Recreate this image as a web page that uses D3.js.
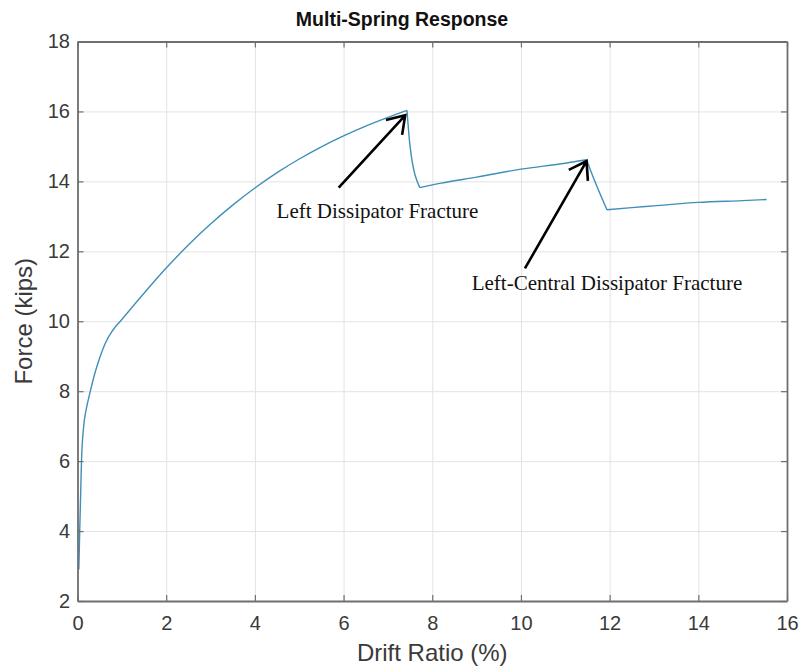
<!DOCTYPE html>
<html>
<head>
<meta charset="utf-8">
<script src="https://cdn.jsdelivr.net/npm/d3@7"></script>
<style>
  body { margin: 0; background: #fff; }
</style>
</head>
<body>
<svg id="chart" width="799" height="666"></svg>
<script>
// Drift ratio (%) and force (kips)
const driftRatio = [0.03, 0.05, 0.07, 0.09, 0.14, 0.2, 0.28, 0.4, 0.5, 0.63, 0.8, 1.0, 1.5, 2.0, 2.5, 3.0, 3.5, 4.0, 4.5, 5.0, 5.5, 6.0, 6.5, 7.0, 7.43, 7.5, 7.72, 8.2, 9.0, 10.0, 11.0, 11.48, 11.63, 11.94, 12.5, 13.0, 14.0, 15.0, 15.54];
const force = [2.9, 4.0, 5.0, 6.0, 7.0, 7.5, 7.95, 8.55, 8.95, 9.38, 9.75, 10.05, 10.8, 11.52, 12.18, 12.78, 13.32, 13.81, 14.25, 14.64, 14.99, 15.3, 15.58, 15.83, 16.03, 15.0, 13.82, 13.95, 14.12, 14.35, 14.52, 14.62, 14.12, 13.19, 13.25, 13.3, 13.4, 13.45, 13.48];

const xTicks = [0, 2, 4, 6, 8, 10, 12, 14, 16];
const yTicks = [2, 4, 6, 8, 10, 12, 14, 16, 18];

// Annotations: text position and arrow tail -> head, in data units
const noteLabels = ['Left Dissipator Fracture', 'Left-Central Dissipator Fracture'];
const noteTextPos = [[4.49, 12.94], [8.89, 10.89]];
const arrowTail = [[5.89, 13.82], [10.09, 11.51]];
const arrowHead = [[7.39, 15.89], [11.48, 14.58]];

const svg = d3.select('#chart'),
    marginLeft = 77.5, marginTop = 41.5,
    width = 709.5, height = 559.5;

const xScale = d3.scaleLinear().domain([0, 16]).range([0, width]);
const yScale = d3.scaleLinear().domain([2, 18]).range([height, 0]);

const g = svg.append('g')
    .attr('transform', 'translate(' + marginLeft + ',' + marginTop + ')');

// Grid
g.append('g')
    .attr('transform', 'translate(0,' + height + ')')
    .call(d3.axisBottom(xScale).tickValues(xTicks).tickSize(-height).tickFormat(''))
    .call(s => s.select('.domain').remove())
    .selectAll('line').attr('stroke', '#e3e3e3');
g.append('g')
    .call(d3.axisLeft(yScale).tickValues(yTicks).tickSize(-width).tickFormat(''))
    .call(s => s.select('.domain').remove())
    .selectAll('line').attr('stroke', '#e3e3e3');

// Curve: smooth hardening branches, drops at each fracture
const points = driftRatio.map((d, i) => [d, force[i]]);
const peaks = [24, 31];
const branches = [points.slice(0, peaks[0] + 1), points.slice(26, peaks[1] + 1), points.slice(33)];
const drops = [points.slice(peaks[0], 27), points.slice(peaks[1], 34)];

const smooth = d3.line().curve(d3.curveMonotoneX).x(d => xScale(d[0])).y(d => yScale(d[1]));
const curveD = branches.concat(drops).map(b => smooth(b)).join('');

g.append('path')
    .attr('fill', 'none')
    .attr('stroke', '#3f8fb8')
    .attr('stroke-width', 1.4)
    .attr('stroke-linejoin', 'round')
    .attr('d', curveD);

// Axes (inward ticks, box on all sides)
const axisColor = '#6f6f6f';
function styleAxis(sel) {
    sel.select('.domain').attr('stroke', axisColor).attr('stroke-width', 1.8);
    sel.selectAll('.tick line').attr('stroke', axisColor).attr('stroke-width', 1.2);
    sel.selectAll('text')
        .attr('fill', '#3a3a3a')
        .style('font-family', 'Liberation Sans, Arial, sans-serif')
        .style('font-size', '20px');
}

g.append('g')
    .attr('transform', 'translate(0,' + height + ')')
    .call(d3.axisBottom(xScale).tickValues(xTicks).tickSize(-6).tickSizeOuter(0).tickPadding(14.5))
    .call(styleAxis);
g.append('g')
    .call(d3.axisTop(xScale).tickValues(xTicks).tickSize(-6).tickSizeOuter(0).tickFormat(''))
    .call(styleAxis);
g.append('g')
    .call(d3.axisLeft(yScale).tickValues(yTicks).tickSize(-6).tickSizeOuter(0).tickPadding(7.5))
    .call(styleAxis);
g.append('g')
    .attr('transform', 'translate(' + width + ',0)')
    .call(d3.axisRight(yScale).tickValues(yTicks).tickSize(-6).tickSizeOuter(0).tickFormat(''))
    .call(styleAxis);

// Arrows with open heads
const headBack = 16.5, headSide = 11;
function arrowPath(tail, head) {
    const x1 = xScale(tail[0]), y1 = yScale(tail[1]);
    const x2 = xScale(head[0]), y2 = yScale(head[1]);
    const len = Math.hypot(x2 - x1, y2 - y1);
    const ux = (x2 - x1) / len, uy = (y2 - y1) / len;
    const bx = x2 - ux * headBack, by = y2 - uy * headBack;
    return 'M' + x1 + ',' + y1 + 'L' + x2 + ',' + y2 +
        'M' + (bx - uy * headSide) + ',' + (by + ux * headSide) +
        'L' + x2 + ',' + y2 +
        'L' + (bx + uy * headSide) + ',' + (by - ux * headSide);
}

g.append('g')
    .selectAll('path')
    .data(arrowTail)
    .enter()
    .append('path')
    .attr('d', (d, i) => arrowPath(d, arrowHead[i]))
    .attr('fill', 'none')
    .attr('stroke', '#000')
    .attr('stroke-width', 2.6)
    .attr('stroke-linejoin', 'miter');

g.append('g')
    .selectAll('text')
    .data(noteLabels)
    .enter()
    .append('text')
    .attr('x', (d, i) => xScale(noteTextPos[i][0]))
    .attr('y', (d, i) => yScale(noteTextPos[i][1]))
    .style('font-family', 'Liberation Serif, Times New Roman, serif')
    .style('font-size', '21px')
    .attr('fill', '#111')
    .text(d => d);

// Title
svg.append('text')
    .attr('x', 402)
    .attr('y', 26)
    .attr('text-anchor', 'middle')
    .style('font-family', 'Liberation Sans, Arial, sans-serif')
    .style('font-weight', 'bold')
    .style('font-size', '19.5px')
    .attr('fill', '#111')
    .text('Multi-Spring Response');

// X label
svg.append('text')
    .attr('x', marginLeft + width / 2)
    .attr('y', 661)
    .attr('text-anchor', 'middle')
    .style('font-family', 'Liberation Sans, Arial, sans-serif')
    .style('font-size', '24px')
    .attr('fill', '#3a3a3a')
    .text('Drift Ratio (%)');

// Y label
svg.append('text')
    .attr('text-anchor', 'middle')
    .attr('transform', 'translate(32,' + (marginTop + height / 2) + ')rotate(-90)')
    .style('font-family', 'Liberation Sans, Arial, sans-serif')
    .style('font-size', '24px')
    .attr('fill', '#3a3a3a')
    .text('Force (kips)');
</script>
</body>
</html>
